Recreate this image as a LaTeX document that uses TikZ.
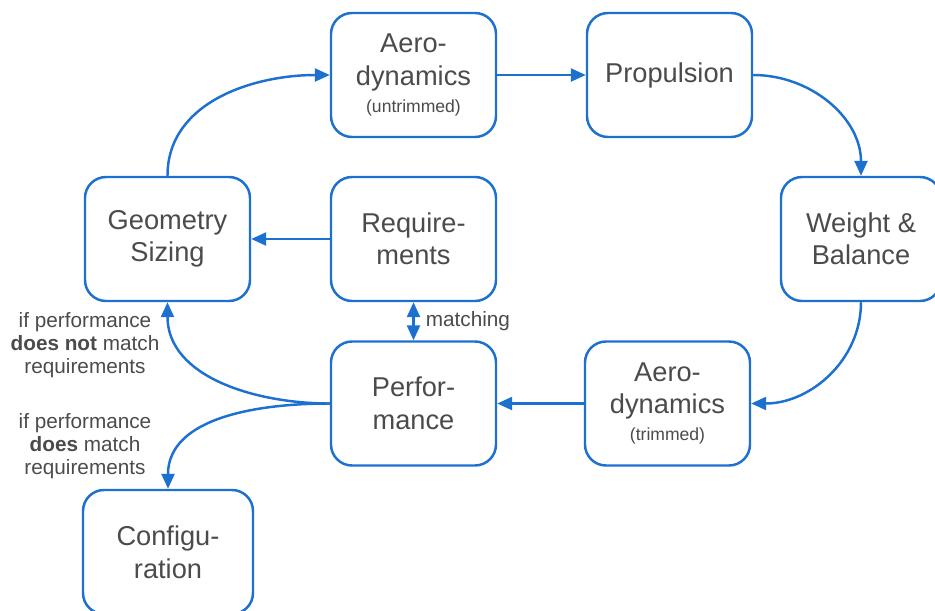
\documentclass[tikz,border=0pt]{standalone}
\usepackage{fontspec}
\setmainfont{Liberation Sans}
\usepackage{tikz}
\usetikzlibrary{arrows.meta,positioning}
\usepackage{xcolor}
\definecolor{flowblue}{RGB}{28,112,208}
\definecolor{txtgray}{RGB}{75,75,75}

\begin{document}
\begin{tikzpicture}[
        box/.style={draw=flowblue, line width=1.4pt, rounded corners=0.42cm, fill=white,
            minimum width=3.3cm, minimum height=2.48cm, align=center, text=txtgray,
            font=\fontsize{15.5}{18.5}\selectfont},
        arrow/.style={-{Triangle[length=0.3cm,width=0.26cm]}, line width=1.4pt, draw=flowblue},
        note/.style={align=center, text=txtgray, font=\fontsize{11.8}{13}\selectfont}
    ]
    \useasboundingbox (0,0) rectangle (18.7,-12.2);

    % Blocos do ciclo
    \node[box] (aerou) at (8.27,-1.50) {Aero-\\dynamics\\[-3pt]{\fontsize{10}{12}\selectfont (untrimmed)}};
    \node[box] (prop) at (13.39,-1.50) {Propulsion};
    \node[box, minimum width=3.2cm] (wb) at (17.22,-4.78) {Weight \&\\Balance};
    \node[box] (geo) at (3.35,-4.78) {Geometry\\Sizing};
    \node[box] (req) at (8.27,-4.78) {Require-\\ments};
    \node[box] (perf) at (8.27,-8.07) {Perfor-\\mance};
    \node[box] (aerot) at (13.35,-8.07) {Aero-\\dynamics\\[-3pt]{\fontsize{10}{12}\selectfont (trimmed)}};
    \node[box, minimum width=3.4cm] (config) at (3.36,-11.04) {Configu-\\ration};

    % Setas
    \draw[arrow] (geo.north) to[out=90, in=180] (aerou.west);
    \draw[arrow] (aerou) -- (prop);
    \draw[arrow] (prop.east) to[out=0, in=90] (wb.north);
    \draw[arrow] (wb.south) to[out=-90, in=0] (aerot.east);
    \draw[arrow] (aerot) -- (perf);
    \draw[arrow] (req) -- (geo);
    \draw[arrow] (perf.west) to[out=180, in=-90] (geo.south);
    \draw[arrow] (perf.west) to[out=180, in=90] (config.north);
    \draw[arrow, {Triangle[length=0.3cm,width=0.26cm]}-{Triangle[length=0.3cm,width=0.26cm]}] (req) -- node[right=3pt, note] (match) {matching} (perf);

    % Etiquetas
    \node[note] (nomatch) at (1.70,-6.90) {if performance\\\textbf{does not} match\\requirements};
    \node[note] (domatch) at (1.70,-8.92) {if performance\\\textbf{does} match\\requirements};

\end{tikzpicture}
\end{document}
